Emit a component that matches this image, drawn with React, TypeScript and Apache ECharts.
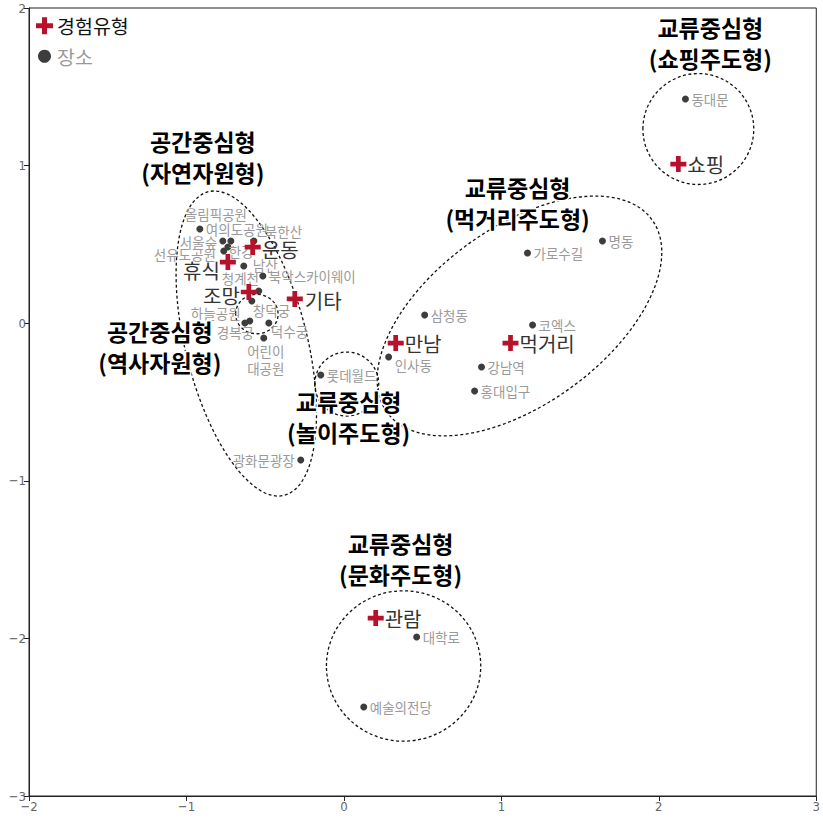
import React, { useEffect, useRef } from "react";
import * as echarts from "echarts";

// Experience types (red crosses)
const expNames = ["운동", "휴식", "조망", "기타", "만남", "먹거리", "쇼핑", "관람"];
const expX = [-0.579, -0.737, -0.604, -0.312, 0.329, 1.058, 2.124, 0.202];
const expY = [0.483, 0.388, 0.198, 0.154, -0.126, -0.126, 1.01, -1.871];

// Places (grey dots)
const placeNames = [
  "동대문", "명동", "가로수길", "삼청동", "코엑스", "인사동", "강남역", "홍대입구",
  "롯데월드", "광화문광장", "대학로", "예술의전당", "여의도공원", "서울숲", "한강",
  "북한산", "올림픽공원", "선유도공원", "남산", "북악스카이웨이", "청계천", "창덕궁",
  "경복궁", "하늘공원", "덕수궁", "어린이\n대공원",
];
const placeX = [
  2.169, 1.642, 1.166, 0.513, 1.198, 0.284, 0.874, 0.83, -0.147, -0.274, 0.462, 0.126,
  -0.915, -0.769, -0.718, -0.572, -0.737, -0.763, -0.636, -0.515, -0.541, -0.585,
  -0.598, -0.629, -0.477, -0.509,
];
const placeY = [
  1.423, 0.522, 0.445, 0.052, -0.011, -0.214, -0.278, -0.43, -0.329, -0.868, -1.991,
  -2.435, 0.598, 0.522, 0.522, 0.522, 0.483, 0.458, 0.363, 0.299, 0.204, 0.141, 0.014,
  0.001, 0.001, -0.094,
];

// Group annotations
const groupNames = [
  "교류중심형\n(쇼핑주도형)",
  "공간중심형\n(자연자원형)",
  "교류중심형\n(먹거리주도형)",
  "공간중심형\n(역사자원형)",
  "교류중심형\n(놀이주도형)",
  "교류중심형\n(문화주도형)",
];
const groupX = [2.327, -0.896, 1.103, -1.169, 0.03, 0.36];
const groupY = [1.778, 1.055, 0.763, -0.151, -0.595, -1.496];

// Group ellipses: centre x, centre y, semi-axis x, semi-axis y, rotation (deg)
const ellCX = [2.251, 1.115, -0.62, -0.553, 0.018, 0.379];
const ellCY = [1.232, 0.046, -0.129, 0.058, -0.386, -2.175];
const ellRX = [0.352, 1.04, 0.387, 0.135, 0.203, 0.49];
const ellRY = [0.352, 0.56, 0.993, 0.125, 0.203, 0.477];
const ellRot = [0, 36, 14, 0, 0, 0];

// Axis ticks
const xTicks = [-2, -1, 0, 1, 2, 3];
const yTicks = [-3, -2, -1, 0, 1, 2];

// label placement (px offsets from point centre) – layout, not data
const placeLabelPos: Record<string, [number, number, string?]> = {
  "인사동": [6, 8],
  "광화문광장": [-6, 0, "right"],
  "서울숲": [-43, 1],
  "한강": [-2, 10],
  "북한산": [11, -10],
  "올림픽공원": [-43, -33],
  "선유도공원": [-70, 3],
  "남산": [9, -1],
  "청계천": [-37, -13],
  "창덕궁": [1, 9],
  "경복궁": [-33, 11],
  "하늘공원": [-54, -10],
  "덕수궁": [2, 8],
  "어린이\n대공원": [2, 21, "center"],
};
const expLabelPos: Record<string, [number, number, string?]> = {
  "운동": [9, 2],
  "휴식": [-8, 8, "right"],
  "조망": [-9, 4, "right"],
  "기타": [10, 2],
};

const KR = '"Noto Sans CJK KR", "Noto Sans", sans-serif';
const RED = "#b8112c";
const CROSS = "path://M6,0H11V6H17V11H11V17H6V11H0V6H6Z";

export default function App() {
  const ref = useRef<HTMLDivElement>(null);
  useEffect(() => {
    if (!ref.current) return;
    const chart = echarts.init(ref.current, undefined, { renderer: "svg" });
    const fmt = (v: number) => (v < 0 ? "\u2212" + Math.abs(v) : String(v));

    const placeData = placeNames.map((n, i) => {
      const p = placeLabelPos[n] || [6, 0, "left"];
      return {
        name: n,
        value: [placeX[i], placeY[i]],
        label: {
          align: p[2] || "left",
          offset: [p[0], p[1]],
        },
      };
    });
    const expData = expNames.map((n, i) => {
      const p = expLabelPos[n] || [9, 0, "left"];
      return {
        name: n,
        value: [expX[i], expY[i]],
        label: { align: p[2] || "left", offset: [p[0], p[1]] },
      };
    });
    const groupData = groupNames.map((n, i) => ({ name: n, value: [groupX[i], groupY[i]] }));
    const ellData = ellCX.map((c, i) => [c, ellCY[i], ellRX[i], ellRY[i], ellRot[i]]);

    chart.setOption({
      animation: false,
      grid: {
        left: 29, right: 6, top: 8, bottom: 25,
        show: true, borderColor: "#222", borderWidth: 1, backgroundColor: "transparent",
      },
      xAxis: {
        type: "value", min: xTicks[0], max: xTicks[xTicks.length - 1], interval: 1,
        axisLine: { show: true, onZero: false, lineStyle: { color: "#222", width: 1 } },
        axisTick: { show: true, inside: false, length: 5, lineStyle: { color: "#222" } },
        axisLabel: {
          color: "#666", fontSize: 13, margin: 4, formatter: fmt,
          fontFamily: '"Liberation Sans Narrow", "DejaVu Sans Condensed", sans-serif',
        },
        splitLine: { show: false },
      },
      yAxis: {
        type: "value", min: yTicks[0], max: yTicks[yTicks.length - 1], interval: 1,
        axisLine: { show: true, onZero: false, lineStyle: { color: "#222", width: 1 } },
        axisTick: { show: true, inside: false, length: 5, lineStyle: { color: "#222" } },
        axisLabel: {
          color: "#666", fontSize: 13, margin: 3, formatter: fmt,
          fontFamily: '"Liberation Sans Narrow", "DejaVu Sans Condensed", sans-serif',
        },
        splitLine: { show: false },
      },
      graphic: [
        {
          type: "group", left: 36, top: 16, silent: true,
          children: [
            { type: "rect", shape: { x: 0, y: 6, width: 17, height: 5 }, style: { fill: RED } },
            { type: "rect", shape: { x: 6, y: 0, width: 5, height: 17 }, style: { fill: RED } },
            {
              type: "text", x: 21, y: 8.5,
              style: { text: "경험유형", fill: "#111", font: `19.5px ${KR}`, verticalAlign: "middle" },
            },
            { type: "circle", shape: { cx: 8.5, cy: 39, r: 6.5 }, style: { fill: "#3d3d3d" } },
            {
              type: "text", x: 21, y: 39,
              style: { text: "장소", fill: "#999", font: `19.5px ${KR}`, verticalAlign: "middle" },
            },
          ],
        },
      ],
      series: [
        {
          type: "custom",
          z: 1,
          silent: true,
          clip: false,
          data: ellData,
          encode: { x: 0, y: 1 },
          renderItem: (params: any, api: any) => {
            const c = api.coord([api.value(0), api.value(1)]);
            const s = api.size([api.value(2), api.value(3)]);
            return {
              type: "ellipse",
              x: c[0], y: c[1],
              rotation: (api.value(4) * Math.PI) / 180,
              shape: { cx: 0, cy: 0, rx: s[0], ry: s[1] },
              style: { fill: "none", stroke: "#111", lineWidth: 1.3, lineDash: [3, 2.5] },
            };
          },
        },
        {
          type: "scatter",
          name: "장소",
          z: 2,
          silent: true,
          symbol: "circle",
          symbolSize: 7,
          itemStyle: { color: "#3d3d3d", opacity: 1 },
          data: placeData,
          label: {
            show: true, position: "inside", verticalAlign: "middle",
            formatter: "{b}", color: "#9a9a9a", fontSize: 13.5, lineHeight: 17,
            fontFamily: KR,
          },
        },
        {
          type: "scatter",
          name: "경험유형",
          z: 3,
          silent: true,
          symbol: CROSS,
          symbolSize: 16,
          itemStyle: { color: RED, opacity: 1 },
          data: expData,
          label: {
            show: true, position: "inside", verticalAlign: "middle",
            formatter: "{b}", color: "#333", fontSize: 20, fontFamily: KR,
          },
        },
        {
          type: "scatter",
          z: 4,
          silent: true,
          symbolSize: 1,
          itemStyle: { color: "rgba(0,0,0,0)", opacity: 1 },
          data: groupData,
          label: {
            show: true, position: "inside", align: "center", verticalAlign: "middle",
            formatter: "{b}", color: "#000", fontSize: 23, fontWeight: "bold",
            lineHeight: 31, fontFamily: KR,
            textBorderColor: "#fff", textBorderWidth: 3,
          },
        },
      ],
    });
    return () => chart.dispose();
  }, []);
  return (
    <div
      ref={ref}
      style={{ position: "fixed", left: 0, top: 0, width: 823, height: 821, background: "#fff" }}
    />
  );
}
